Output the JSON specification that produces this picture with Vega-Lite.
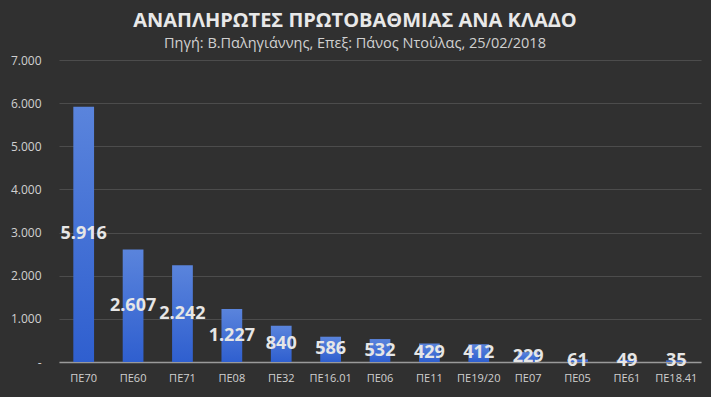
{
  "$schema": "https://vega.github.io/schema/vega-lite/v6.json",
  "autosize": {"type": "none"},
  "width": 642,
  "height": 302,
  "padding": {"left": 59, "top": 60, "right": 10, "bottom": 35},
  "background": "#303030",
  "config": {
    "view": {"stroke": null},
    "font": "Open Sans",
    "locale": {"number": {"decimal": ",", "thousands": ".", "grouping": [3], "currency": ["", " €"]}},
    "axisY": {
      "labelColor": "#d0d0d0",
      "labelFontSize": 12,
      "labelPadding": 18,
      "ticks": false,
      "domain": false,
      "gridColor": "#4c4c4c",
      "gridWidth": 1
    }
  },
  "title": {
    "text": "ΑΝΑΠΛΗΡΩΤΕΣ  ΠΡΩΤΟΒΑΘΜΙΑΣ  ΑΝΑ ΚΛΑΔΟ",
    "subtitle": "Πηγή: Β.Παληγιάννης, Επεξ: Πάνος Ντούλας, 25/02/2018",
    "anchor": "middle",
    "dx": -25,
    "offset": 4,
    "font": "Open Sans",
    "fontSize": 20,
    "fontWeight": "bold",
    "color": "#e8e8e8",
    "subtitleFont": "Open Sans",
    "subtitleFontSize": 14.5,
    "subtitleColor": "#d0d0d0",
    "subtitlePadding": 6
  },
  "data": {
    "values": [
      {"klados": "ΠΕ70", "value": 5916},
      {"klados": "ΠΕ60", "value": 2607},
      {"klados": "ΠΕ71", "value": 2242},
      {"klados": "ΠΕ08", "value": 1227},
      {"klados": "ΠΕ32", "value": 840},
      {"klados": "ΠΕ16.01", "value": 586},
      {"klados": "ΠΕ06", "value": 532},
      {"klados": "ΠΕ11", "value": 429},
      {"klados": "ΠΕ19/20", "value": 412},
      {"klados": "ΠΕ07", "value": 229},
      {"klados": "ΠΕ05", "value": 61},
      {"klados": "ΠΕ61", "value": 49},
      {"klados": "ΠΕ18.41", "value": 35}
    ]
  },
  "transform": [{"calculate": "datum.value / 2", "as": "mid"}],
  "encoding": {
    "x": {
      "field": "klados",
      "type": "nominal",
      "sort": null,
      "scale": {"paddingInner": 0.58, "paddingOuter": 0.29},
      "axis": {
        "title": null,
        "labelAngle": 0,
        "labelColor": "#d0d0d0",
        "labelFontSize": 11,
        "labelPadding": 10,
        "ticks": false,
        "domainColor": "#9a9a9a",
        "domainWidth": 1.5
      }
    }
  },
  "layer": [
    {
      "mark": {
        "type": "bar",
        "color": {
          "gradient": "linear",
          "x1": 0, "y1": 0, "x2": 0, "y2": 1,
          "stops": [
            {"offset": 0, "color": "#5a84dc"},
            {"offset": 1, "color": "#2f5fcf"}
          ]
        }
      },
      "encoding": {
        "y": {
          "field": "value",
          "type": "quantitative",
          "scale": {"domain": [0, 7000], "nice": false},
          "axis": {
            "title": null,
            "values": [0, 1000, 2000, 3000, 4000, 5000, 6000, 7000],
            "labelExpr": "datum.value == 0 ? '-' : format(datum.value, ',')"
          }
        }
      }
    },
    {
      "mark": {
        "type": "text",
        "fontSize": 18,
        "fontWeight": "bold",
        "color": "#e6e6e6",
        "baseline": "middle",
        "align": "center"
      },
      "encoding": {
        "y": {
          "field": "mid",
          "type": "quantitative",
          "scale": {"domain": [0, 7000], "nice": false},
          "axis": {
            "title": null,
            "values": [0, 1000, 2000, 3000, 4000, 5000, 6000, 7000],
            "labelExpr": "datum.value == 0 ? '-' : format(datum.value, ',')"
          }
        },
        "text": {"field": "value", "type": "quantitative", "format": ","}
      }
    }
  ]
}
